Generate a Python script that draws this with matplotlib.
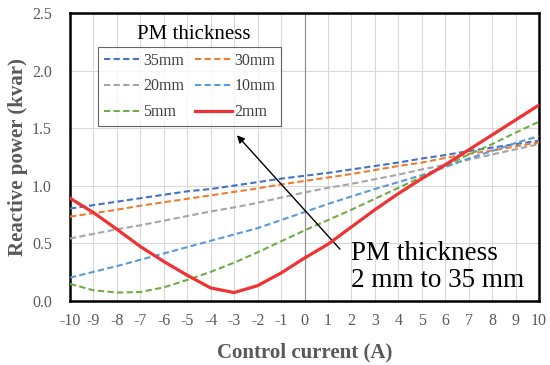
import matplotlib
matplotlib.use("Agg")
import matplotlib.pyplot as plt
import numpy as np

plt.rcParams['font.family'] = ['Liberation Serif', 'DejaVu Serif']
plt.rcParams['axes.unicode_minus'] = False

# Control current (A)
current = list(range(-10, 11))

# Reactive power (kvar) for each PM thickness
q_35mm = [0.80, 0.83, 0.86, 0.89, 0.92, 0.95, 0.97, 1.00, 1.03, 1.06, 1.085,
          1.11, 1.14, 1.17, 1.20, 1.235, 1.265, 1.30, 1.33, 1.36, 1.39]
q_30mm = [0.73, 0.76, 0.79, 0.825, 0.855, 0.885, 0.915, 0.945, 0.975, 1.01, 1.04,
          1.07, 1.10, 1.135, 1.17, 1.20, 1.24, 1.275, 1.305, 1.34, 1.375]
q_20mm = [0.54, 0.58, 0.62, 0.655, 0.695, 0.735, 0.775, 0.81, 0.85, 0.895, 0.94,
          0.98, 1.015, 1.055, 1.095, 1.14, 1.18, 1.225, 1.27, 1.315, 1.36]
q_10mm = [0.20, 0.25, 0.30, 0.355, 0.41, 0.465, 0.52, 0.575, 0.63, 0.70, 0.77,
          0.84, 0.905, 0.97, 1.03, 1.09, 1.16, 1.235, 1.30, 1.37, 1.43]
q_5mm = [0.145, 0.09, 0.07, 0.075, 0.115, 0.18, 0.25, 0.33, 0.42, 0.515, 0.61,
         0.70, 0.79, 0.885, 0.98, 1.075, 1.17, 1.27, 1.36, 1.46, 1.555]
q_2mm = [0.89, 0.765, 0.62, 0.47, 0.34, 0.22, 0.11, 0.07, 0.13, 0.24, 0.37,
         0.49, 0.64, 0.79, 0.93, 1.06, 1.18, 1.31, 1.44, 1.57, 1.70]

labels = ['35mm', '30mm', '20mm', '10mm', '5mm', '2mm']
series = [q_35mm, q_30mm, q_20mm, q_10mm, q_5mm, q_2mm]
colors = ['#4472C4', '#ED7D31', '#A5A5A5', '#5B9BD5', '#70AD47', '#F03232']

xticks = list(range(-10, 11))
yticks = [0.0, 0.5, 1.0, 1.5, 2.0, 2.5]

fig = plt.figure(figsize=(5.5, 3.65), dpi=100)
ax = fig.add_axes([0.1273, 0.1764, 0.8527, 0.788])

handles = {}
for lab, ys, c in zip(labels, series, colors):
    if lab == '2mm':
        h, = ax.plot(current, ys, color=c, lw=2.3, solid_joinstyle='round',
                     label=lab, zorder=4)
    else:
        h, = ax.plot(current, ys, color=c, lw=1.5, dashes=(3, 1.6),
                     label=lab, zorder=3)
    handles[lab] = h

ax.set_xlim(-10, 10)
ax.set_ylim(0, 2.5)
ax.set_xticks(xticks)
ax.set_yticks(yticks)
ax.set_yticklabels([f'{v:.1f}' for v in yticks])
ax.tick_params(axis='both', length=0, labelsize=11.5, colors='#595959')
ax.tick_params(axis='x', pad=9)
ax.tick_params(axis='y', pad=13)

ax.grid(True, color='#D9D9D9', lw=0.8, zorder=0)
ax.set_axisbelow(True)
ax.axvline(0, color='#8C8C8C', lw=0.8, zorder=1)

for sp in ax.spines.values():
    sp.set_linewidth(1.8)
    sp.set_color('black')

ax.set_xlabel('Control current (A)', fontsize=15, fontweight='bold',
              color='#595959')
ax.set_ylabel('Reactive power (kvar)', fontsize=15, fontweight='bold',
              color='#595959')
ax.xaxis.set_label_coords(0.5, -0.145)
ax.yaxis.set_label_coords(-0.09, 0.5)

# two columns filled row by row: 35/30, 20/10, 5/2
order = ['35mm', '20mm', '5mm', '30mm', '10mm', '2mm']
leg = ax.legend([handles[k] for k in order], order, ncol=2,
                loc='upper left', bbox_to_anchor=(0.06, 0.882),
                borderaxespad=0, fontsize=11.5, handlelength=2.3,
                handletextpad=0.15, columnspacing=0.7, labelspacing=0.62,
                frameon=True, fancybox=False, borderpad=0.35)
leg.get_frame().set_edgecolor('#404040')
leg.get_frame().set_linewidth(0.8)
for t in leg.get_texts():
    t.set_color('#404040')

ax.text(0.264, 0.9235, 'PM thickness', transform=ax.transAxes,
        ha='center', va='center', fontsize=15, color='black')

ax.annotate('', xy=(-2.96, 1.455), xytext=(1.59, 0.43),
            arrowprops=dict(arrowstyle='-|>', color='black', lw=1.0,
                            mutation_scale=11))
ax.text(2.0, 0.29, 'PM thickness\n2 mm to 35 mm', fontsize=19.5,
        ha='left', va='center', linespacing=1.1, color='black', zorder=5)

fig.savefig('out.png', dpi=100)
